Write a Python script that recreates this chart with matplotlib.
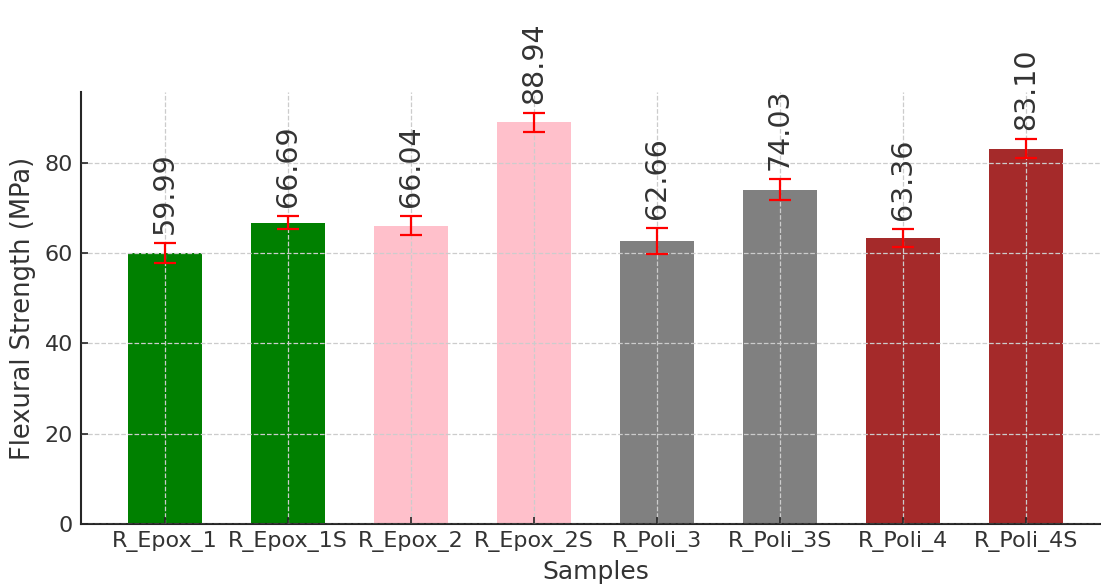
import matplotlib
matplotlib.use("Agg")
import matplotlib.pyplot as plt
import numpy as np

# Flexural strength results per sample
samples = ["R_Epox_1", "R_Epox_1S", "R_Epox_2", "R_Epox_2S",
           "R_Poli_3", "R_Poli_3S", "R_Poli_4", "R_Poli_4S"]
strength = [59.99, 66.69, 66.04, 88.94, 62.66, 74.03, 63.36, 83.10]
std_dev = [2.15, 1.4, 2.05, 2.05, 2.85, 2.3, 2.0, 2.05]
bar_colors = ["green", "green", "pink", "pink", "gray", "gray", "brown", "brown"]

text_color = "#333333"
plt.rcParams["font.family"] = "DejaVu Sans"
plt.rcParams["text.color"] = text_color

fig = plt.figure(figsize=(11.01, 5.84), dpi=100)
ax = fig.add_axes([0.0738, 0.1027, 0.934, 0.739])

x = np.arange(len(samples))
ax.bar(x, strength, width=0.6, color=bar_colors, zorder=1,
       yerr=std_dev, capsize=8,
       error_kw=dict(ecolor="red", elinewidth=1.6, capthick=1.6, zorder=3))

# Value labels above each error bar
for xi, h, e in zip(x, strength, std_dev):
    ax.text(xi, h + e + 2.0, f"{h:.2f}", rotation=90, ha="center", va="bottom",
            fontsize=20.5, color=text_color, clip_on=False)

ax.set_xticks(x)
ax.set_xticklabels(samples)
ax.set_xlabel("Samples", fontsize=18, color=text_color, labelpad=6)
ax.set_ylabel("Flexural Strength (MPa)", fontsize=18.5, color=text_color, labelpad=6)
ax.set_yticks([0, 20, 40, 60, 80])

ax.tick_params(axis="both", direction="in", length=5, width=1.2,
               colors="#262626", labelcolor=text_color, labelsize=16)
ax.tick_params(axis="x", pad=5)
ax.tick_params(axis="y", pad=6)

ax.grid(True, linestyle="--", color="#cccccc", linewidth=0.9, zorder=2)
ax.set_axisbelow(False)

for side in ("top", "right"):
    ax.spines[side].set_visible(False)
for side in ("left", "bottom"):
    ax.spines[side].set_color("#262626")
    ax.spines[side].set_linewidth(1.5)

fig.savefig("out.png", dpi=100)
